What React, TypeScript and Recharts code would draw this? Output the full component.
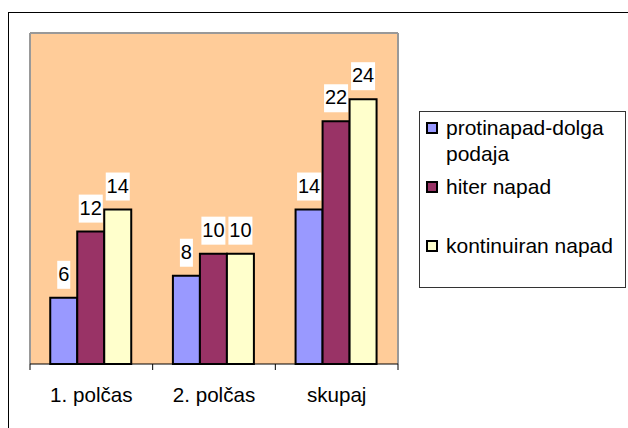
import React from 'react';
import { BarChart, Bar, XAxis, YAxis, CartesianGrid, Legend, LabelList } from 'recharts';

const categories = ['1. polčas', '2. polčas', 'skupaj'];
const protinapad = [6, 8, 14];
const hiterNapad = [12, 10, 22];
const kontinuiran = [14, 10, 24];
const seriesNames = ['protinapad-dolga podaja', 'hiter napad', 'kontinuiran napad'];

const data = categories.map((name, i) => ({
  name,
  protinapad: protinapad[i],
  hiter: hiterNapad[i],
  kontinuiran: kontinuiran[i],
}));

const FONT = '"Liberation Sans", Arial, sans-serif';

const ValueLabel = (props: any) => {
  const { x, y, width, value } = props;
  const cx = x + width / 2;
  const w = String(value).length * 11 + 2;
  return (
    <g>
      <rect x={cx - w / 2} y={y - 37} width={w} height={28} fill="#fff" />
      <text x={cx} y={y - 17} textAnchor="middle" fontSize={20} fill="#000">
        {value}
      </text>
    </g>
  );
};

const CategoryTick = (props: any) => {
  const { x, y, payload, index, visibleTicksCount } = props;
  const half = payload.offset ?? 0;
  const last = index === visibleTicksCount - 1;
  return (
    <g>
      <line x1={x - half} x2={x - half} y1={y} y2={y + 6} stroke="#000" />
      {last && <line x1={x + half} x2={x + half} y1={y} y2={y + 6} stroke="#000" />}
      <text x={x} y={y + 38} textAnchor="middle" fontSize={20.6} fill="#000">
        {payload.value}
      </text>
    </g>
  );
};

const LegendBox = (props: any) => {
  const items = [...(props.payload || [])].sort(
    (a: any, b: any) => seriesNames.indexOf(a.value) - seriesNames.indexOf(b.value)
  );
  return (
    <div
      style={{
        width: 207,
        height: 177,
        boxSizing: 'border-box',
        border: '1px solid #333',
        paddingTop: 3,
        fontFamily: FONT,
        fontSize: 21,
        lineHeight: '26px',
        color: '#000',
      }}
    >
      {items.map((entry: any, i: number) => (
        <div key={i} style={{ height: 59, display: 'flex', alignItems: 'flex-start' }}>
          <span
            style={{
              width: 12,
              height: 12,
              boxSizing: 'border-box',
              border: '2px solid #000',
              background: entry.color,
              marginLeft: 6,
              marginTop: 7,
              marginRight: 8,
              flexShrink: 0,
            }}
          />
          <span style={{ width: 178 }}>{entry.value}</span>
        </div>
      ))}
    </div>
  );
};

export default function App() {
  return (
    <div style={{ position: 'absolute', left: 0, top: 0, width: 628, height: 428, background: '#fff' }}>
      <div
        style={{
          position: 'absolute',
          left: 8,
          top: 12,
          width: 620,
          height: 416,
          borderLeft: '1px solid #000',
          borderTop: '1px solid #000',
        }}
      />
      <BarChart
        width={628}
        height={428}
        data={data}
        margin={{ top: 33, right: 23, bottom: 24, left: 30 }}
        barCategoryGap="16.5%"
        barGap={0}
        style={{ fontFamily: FONT }}
      >
        <CartesianGrid
          fill="#FFCC99"
          fillOpacity={1}
          stroke="#999999"
          strokeWidth={2}
          horizontalCoordinatesGenerator={({ offset }: any) => [offset.top]}
          verticalCoordinatesGenerator={({ offset }: any) => [offset.left, offset.left + offset.width]}
        />
        <XAxis
          dataKey="name"
          height={40}
          tickLine={false}
          tickSize={0}
          tickMargin={0}
          axisLine={{ stroke: '#000', strokeWidth: 1 }}
          tick={<CategoryTick />}
          interval={0}
        />
        <YAxis hide domain={[0, 30]} />
        <Legend
          layout="vertical"
          align="right"
          verticalAlign="top"
          content={<LegendBox />}
          wrapperStyle={{ left: 419, top: 111, width: 207, height: 177 }}
        />
        <Bar dataKey="protinapad" name={seriesNames[0]} fill="#9999FF" stroke="#000" strokeWidth={2} isAnimationActive={false}>
          <LabelList dataKey="protinapad" content={<ValueLabel />} />
        </Bar>
        <Bar dataKey="hiter" name={seriesNames[1]} fill="#993366" stroke="#000" strokeWidth={2} isAnimationActive={false}>
          <LabelList dataKey="hiter" content={<ValueLabel />} />
        </Bar>
        <Bar dataKey="kontinuiran" name={seriesNames[2]} fill="#FFFFCC" stroke="#000" strokeWidth={2} isAnimationActive={false}>
          <LabelList dataKey="kontinuiran" content={<ValueLabel />} />
        </Bar>
      </BarChart>
    </div>
  );
}
